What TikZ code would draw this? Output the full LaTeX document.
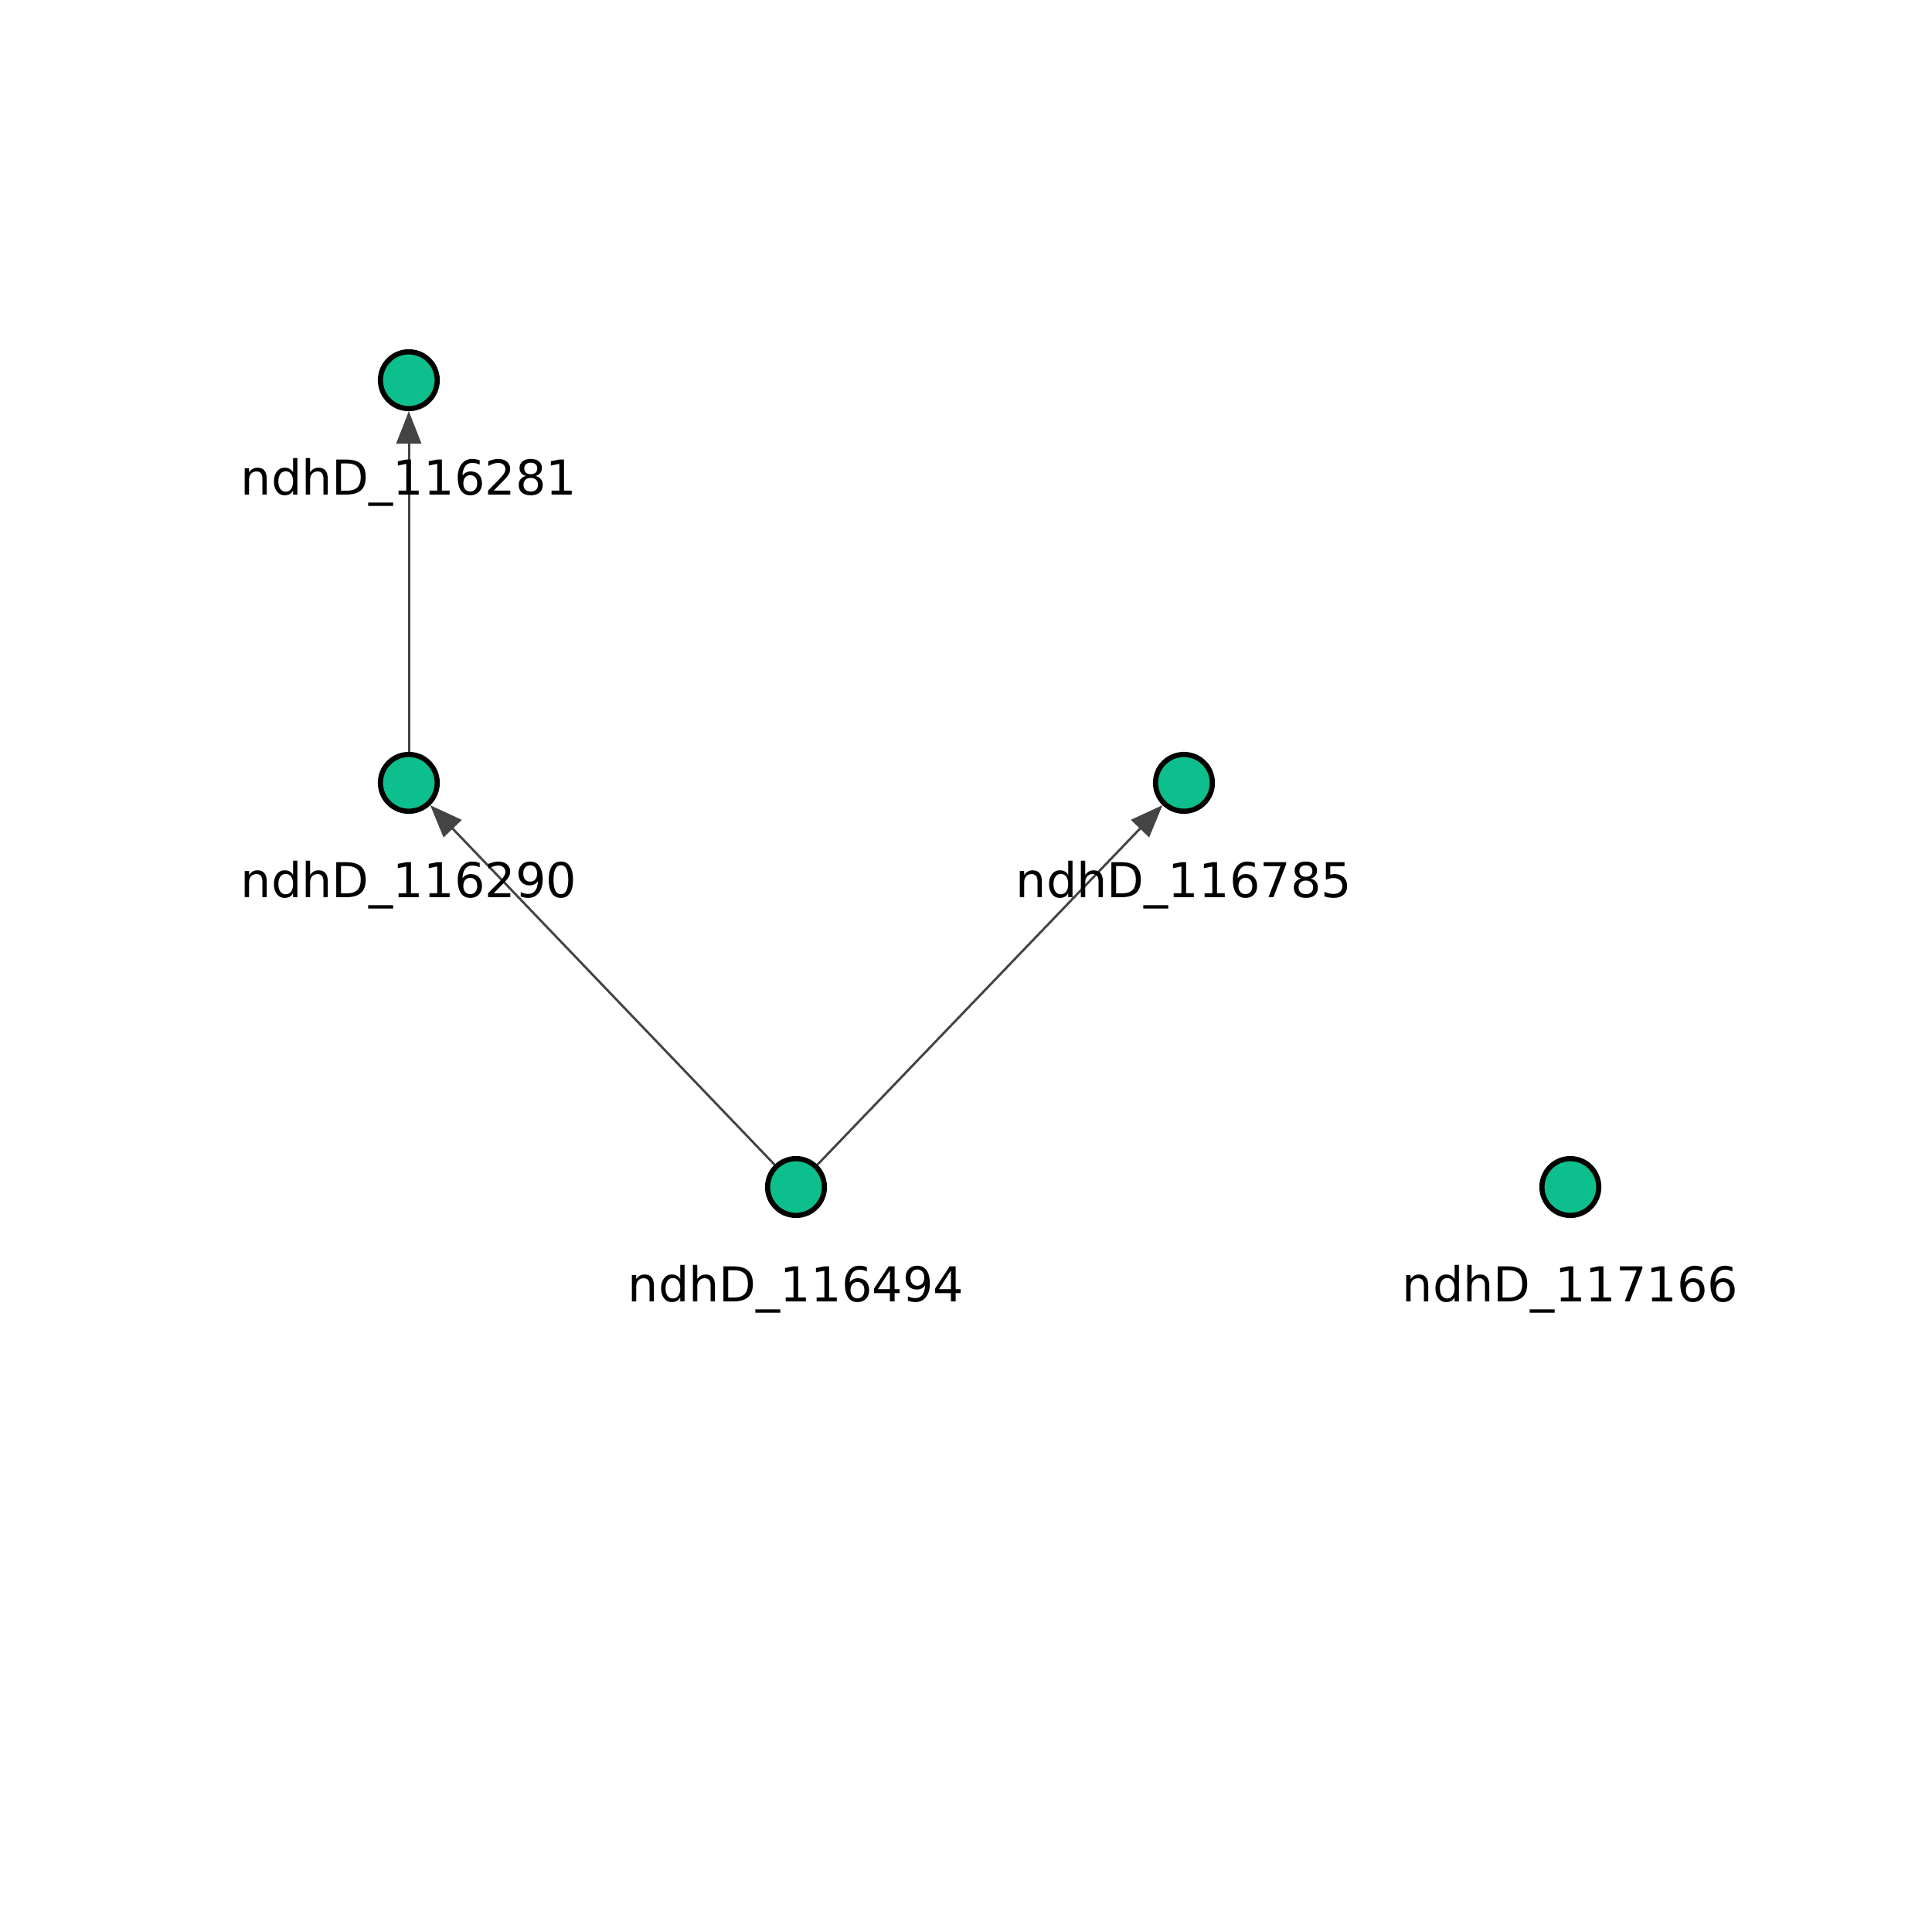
\documentclass[tikz,border=0pt]{standalone}
\usepackage{fontspec}
\setmainfont{DejaVu Sans}
\usetikzlibrary{arrows.meta,positioning}
\definecolor{nodegreen}{RGB}{13,191,140}
\definecolor{edgegray}{RGB}{68,68,68}
\tikzset{gene node/.style={circle,fill=nodegreen,draw=black,line width=1.9pt,minimum size=0.735cm,inner sep=0pt},
         gene label/.style={rectangle,draw=none,fill=none,anchor=base,inner sep=0pt,font=\fontsize{17.7}{20}\selectfont},
         gene edge/.style={edgegray,line width=0.85pt,-{Triangle[length=0.42cm,width=0.32cm]}},
}
\begin{document}
\begin{tikzpicture}
\useasboundingbox (0,0) rectangle (25,-25);
% nodes
\node [gene node] (116281) at (5.29,-4.92) {};
\node [gene node] (116290) at (5.29,-10.13) {};
\node [gene node] (116785) at (15.32,-10.13) {};
\node [gene node] (116494) at (10.30,-15.36) {};
\node [gene node] (117166) at (20.32,-15.36) {};
% edges
\draw[gene edge] (116290) -- (116281);
\draw[gene edge] (116494) -- (116290);
\draw[gene edge] (116494) -- (116785);
% labels
\foreach \n in {116281,116290,116785,116494,117166}
    \node [gene label] (label \n) at ([yshift=-1.48cm]\n.center) {ndhD\_\n};
\end{tikzpicture}
\end{document}
